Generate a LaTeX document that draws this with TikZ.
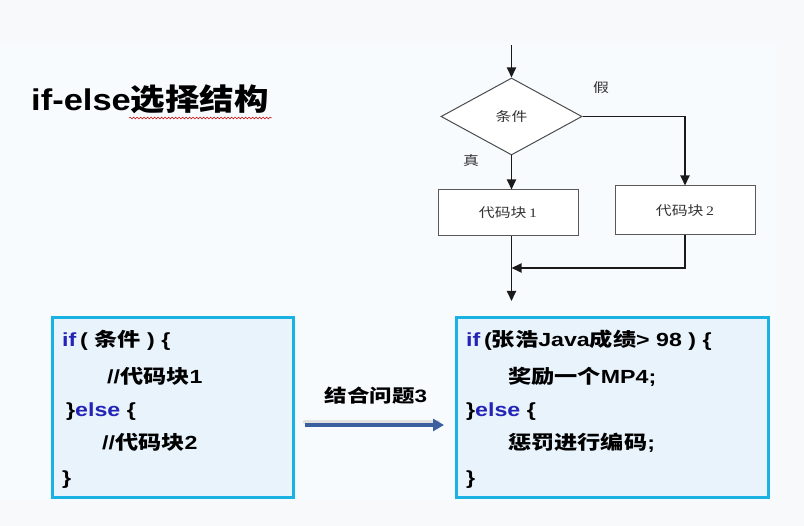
\documentclass[tikz,border=0pt]{standalone}
\usepackage{fontspec}
\setmainfont{Liberation Sans}
\newfontfamily\cjk{Noto Sans CJK SC}
\newfontfamily\serifl{Liberation Serif}
\usetikzlibrary{arrows.meta,shapes.geometric,decorations.pathmorphing}
\definecolor{outerbg}{HTML}{F8F9FA}
\definecolor{slidebg}{HTML}{F7FBFE}
\definecolor{boxfill}{HTML}{E9F3FC}
\definecolor{boxline}{HTML}{19B2E3}
\definecolor{kwblue}{HTML}{2323B8}
\definecolor{arrblue}{HTML}{3A5E9E}
\definecolor{flowline}{HTML}{1A1A1A}
\definecolor{flowtext}{HTML}{333333}
\newcommand\kw[1]{\textcolor{kwblue}{#1}}
\newcommand\zh[1]{{\cjk\bfseries #1}}
\newcommand\wide[1]{\scalebox{1.22}[1]{#1}}
\tikzset{
  codebox/.style={draw=boxline, line width=3pt, fill=boxfill, inner sep=0pt},
  codeline/.style={anchor=base west, inner sep=0pt, font=\fontsize{19}{21}\selectfont\bfseries, text=black},
  fbox/.style={draw=black!65, line width=1pt, fill=white, inner sep=0pt, font=\fontsize{13}{15}\selectfont, text=flowtext},
  cond/.style={diamond, draw=black!70, line width=1pt, fill=white, inner sep=0pt, aspect=1.83, font=\fontsize{13}{15}\selectfont, text=flowtext},
  flow/.style={draw=flowline, line width=1.8pt, -{Triangle[length=10pt,width=9pt]}},
  lbl/.style={inner sep=0pt, font=\fontsize{13}{15}\selectfont, text=flowtext},
  bigarrow/.style={draw=arrblue, line width=3.6pt, -{Triangle[length=11pt,width=12pt]}},
}
\begin{document}
\begin{tikzpicture}[x=1pt,y=-1pt]
\useasboundingbox (0,0) rectangle (804,526);
\fill[outerbg] (0,0) rectangle (804,526);
\fill[slidebg] (0,42) rectangle (776,500);

% title
\node[anchor=base west, inner sep=0pt, font=\fontsize{30}{34}\selectfont\bfseries] (title) at (31,111) {\scalebox{1.15}[1]{if-else\zh{选择结构}}};
\draw[red!80!black, line width=0.5pt, decorate, decoration={snake, amplitude=0.9pt, segment length=3.5pt}] (129,118) -- (272,118);

% flowchart
\coordinate (in) at (511.5,45);
\node[cond, minimum width=141pt, minimum height=77pt] (c) at (511.5,116.5) {\wide{\cjk 条件}};
\node[fbox, minimum width=140pt, minimum height=46pt] (b1) at (508,213) {\wide{{\cjk 代码块}\,{\serifl 1}}};
\node[fbox, minimum width=140pt, minimum height=49pt] (b2) at (685,210.5) {\wide{{\cjk 代码块}\,{\serifl 2}}};
\node[lbl] (f) at (601,88) {\wide{\cjk 假}};
\node[lbl] (t) at (471,161) {\wide{\cjk 真}};
\coordinate (merge) at (511.5,268);
\coordinate (out) at (511.5,301);
\draw[flow] (in) -- (c.north);
\draw[flow] (c.south) -- (c.south |- b1.north);
\draw[flow] (c.east) -| (b2.north);
\draw[flow] (b2.south) |- (merge);
\draw[flow] (c.south |- b1.south) -- (out);

% code boxes
\node[codebox, minimum width=241pt, minimum height=180pt] (lbox) at (172.5,408) {};
\node[codebox, minimum width=312pt, minimum height=180pt] (rbox) at (612,408) {};

\node[codeline] (l1) at (62,347) {\wide{\kw{if}\,( \zh{条件} ) \{}};
\node[codeline] (l2) at (107,384) {\wide{//\zh{代码块}1}};
\node[codeline] (l3) at (66,417) {\wide{\}\kw{else} \{}};
\node[codeline] (l4) at (102,450) {\wide{//\zh{代码块}2}};
\node[codeline] (l5) at (62,485) {\wide{\}}};

\node[codeline] (r1) at (466,347) {\wide{\kw{if}\,(\zh{张浩}Java\zh{成绩}> 98 ) \{}};
\node[codeline] (r2) at (508,384) {\wide{\zh{奖励一个}MP4;}};
\node[codeline] (r3) at (466,417) {\wide{\}\kw{else} \{}};
\node[codeline] (r4) at (508,450) {\wide{\zh{惩罚进行编码};}};
\node[codeline] (r5) at (466,485) {\wide{\}}};

% connecting arrow
\coordinate (a1) at (305,425);
\coordinate (a2) at (444,425);
\draw[black!12, line width=4pt, line cap=round] ([yshift=3pt]a1) -- ([yshift=3pt,xshift=-6pt]a2);
\draw[bigarrow] (a1) -- (a2);
\node[anchor=base, inner sep=0pt, font=\fontsize{18}{20}\selectfont\bfseries] (q) at (376,403) {\scalebox{1.25}[1]{\zh{结合问题}3}};
\end{tikzpicture}
\end{document}
